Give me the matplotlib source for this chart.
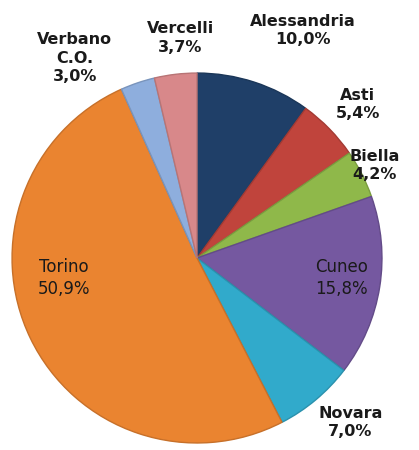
import matplotlib
matplotlib.use("Agg")
import matplotlib.pyplot as plt
import numpy as np

# Province shares (%), clockwise from 12 o'clock
provinces = ["Alessandria", "Asti", "Biella", "Cuneo", "Novara", "Torino", "Verbano\nC.O.", "Vercelli"]
shares = [10.0, 5.4, 4.2, 15.8, 7.0, 50.9, 3.0, 3.7]
share_labels = ["10,0%", "5,4%", "4,2%", "15,8%", "7,0%", "50,9%", "3,0%", "3,7%"]

colors = ["#1F3F68", "#C0443C", "#8FB84A", "#7558A0", "#31AACB", "#EA8430", "#8EAEDD", "#D8888A"]
# label centre (x, y) in pie-radius units, and whether the label sits inside the slice
label_xy = [(0.57, 1.23), (0.87, 0.83), (0.96, 0.50), (0.78, -0.11),
            (0.83, -0.89), (-0.72, -0.11), (-0.66, 1.08), (-0.09, 1.19)]
inside = [False, False, False, True, False, True, False, False]

fig = plt.figure(figsize=(4.19, 4.5), dpi=100)
ax = fig.add_axes([0, 0, 1, 1])

wedges, _ = ax.pie(shares, colors=colors, startangle=90, counterclock=False,
                   radius=1.0, center=(0, 0))

# darker rim to mimic the bevel of the original
for w, c in zip(wedges, colors):
    rgb = np.array(matplotlib.colors.to_rgb(c)) * 0.85
    w.set_edgecolor(rgb)
    w.set_linewidth(1.0)

for name, lab, (x, y), ins in zip(provinces, share_labels, label_xy, inside):
    ax.text(x, y, name + "\n" + lab, ha="center", va="center",
            fontsize=12 if ins else 11.5, fontweight="normal" if ins else "bold",
            color="#1A1A1A", linespacing=1.3)

ax.set_xlim(-1.065, 1.2)
ax.set_ylim(-1.038, 1.395)
ax.axis("off")

fig.savefig("out.png", dpi=100, facecolor="white")
